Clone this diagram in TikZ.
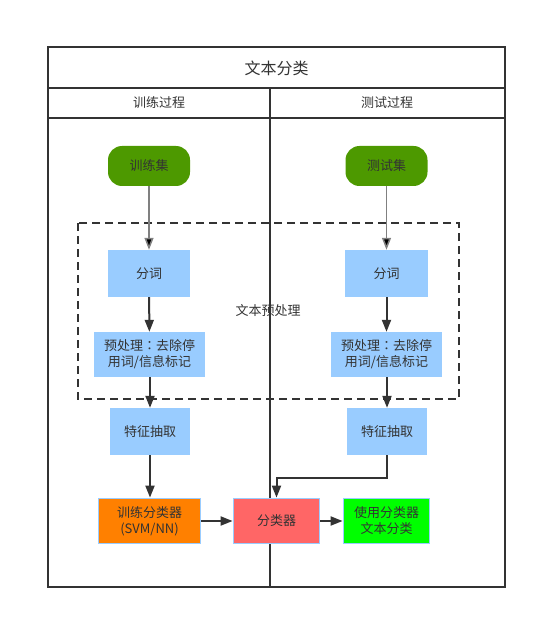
\documentclass[tikz,border=0pt]{standalone}
\usepackage{fontspec}
\setmainfont{Noto Sans CJK SC}
\newfontfamily\tcfont{Noto Sans CJK TC}
\usetikzlibrary{arrows.meta}
\definecolor{txt}{HTML}{333333}
\definecolor{frame}{HTML}{333333}
\definecolor{startg}{HTML}{4D9900}
\definecolor{boxblue}{HTML}{99CCFF}
\definecolor{orangeb}{HTML}{FF8000}
\definecolor{redb}{HTML}{FF6666}
\definecolor{greenb}{HTML}{00FF00}
\newcommand{\ccolon}{{\tcfont ：}}
\tikzset{
  x=1pt,y=-1pt,
  every node/.style={text=txt,font=\fontsize{13}{16}\selectfont,inner sep=0pt,align=center},
  framel/.style={draw=frame,line width=2pt},
  startbox/.style={fill=startg,rounded corners=14pt,minimum width=82pt,minimum height=40pt},
  stepbox/.style={fill=boxblue},
  resbox/.style={draw=boxblue,line width=1.8pt},
  arr/.style={draw=frame,line width=2pt,-{Triangle[length=12pt,width=9pt]}},
}
\begin{document}
\begin{tikzpicture}
\useasboundingbox (0,0) rectangle (537,620);
% frame
\draw[framel] (48,47) rectangle (505,587);
\draw[framel] (48,88) -- (505,88);
\draw[framel] (48,118) -- (505,118);
\draw[framel] (270,88) -- (270,587);
\node[font=\fontsize{16}{19}\selectfont] (title) at (276.5,68) {文本分类};
\node (lanea) at (159,103) {训练过程};
\node (laneb) at (387,103) {测试过程};
% dashed group
\draw[draw=frame,line width=2pt,dash pattern=on 8pt off 5pt] (78,223) rectangle (459,399);
\node (grp) at (268,311) {文本预处理};
% left column
\node[startbox] (trainset) at (149,166) {训练集};
\node[stepbox,minimum width=82pt,minimum height=47pt] (segl) at (149,273.5) {分词};
\node[stepbox,minimum width=111pt,minimum height=45pt] (prel) at (149.5,354.5) {预处理\ccolon 去除停\\用词/信息标记};
\node[stepbox,minimum width=80pt,minimum height=47pt] (featl) at (150,431.5) {特征抽取};
% right column
\node[startbox] (testset) at (386.5,166) {测试集};
\node[stepbox,minimum width=83pt,minimum height=47pt] (segr) at (386.5,273.5) {分词};
\node[stepbox,minimum width=111pt,minimum height=45pt] (prer) at (386.5,354.5) {预处理\ccolon 去除停\\用词/信息标记};
\node[stepbox,minimum width=80pt,minimum height=47pt] (featr) at (387,431.5) {特征抽取};
% bottom row
\node[resbox,fill=orangeb,minimum width=102pt,minimum height=45pt] (train) at (149.5,521) {训练分类器\\(SVM/NN)};
\node[resbox,fill=redb,minimum width=86pt,minimum height=45pt] (clf) at (276.5,521) {分类器};
\node[resbox,fill=greenb,minimum width=86pt,minimum height=45pt] (use) at (386.5,521) {使用分类器\\文本分类};
% connectors
\draw[draw=gray,line width=1.5pt,-{Triangle[length=12pt,width=9pt,fill=black]}] (trainset.south) -- (segl.north);
\draw[draw=gray,line width=1.5pt,-{Triangle[length=12pt,width=9pt,fill=black]}] (testset.south) -- (segr.north);
\draw[arr] (segl) -- (prel);
\draw[arr] (segr) -- (prer);
\draw[arr] (prel.south -| featl.north) -- (featl.north);
\draw[arr] (prer.south -| featr.north) -- (featr.north);
\draw[arr] (featl.south) -- (train.north -| featl.south);
\coordinate (bend) at (387,478);
\coordinate (bend2) at (276.5,478);
\draw[arr] (featr.south) -- (bend) -- (bend2) -- (clf.north);
\draw[arr] (train) -- (clf);
\draw[arr] (clf) -- (use);
\end{tikzpicture}
\end{document}
